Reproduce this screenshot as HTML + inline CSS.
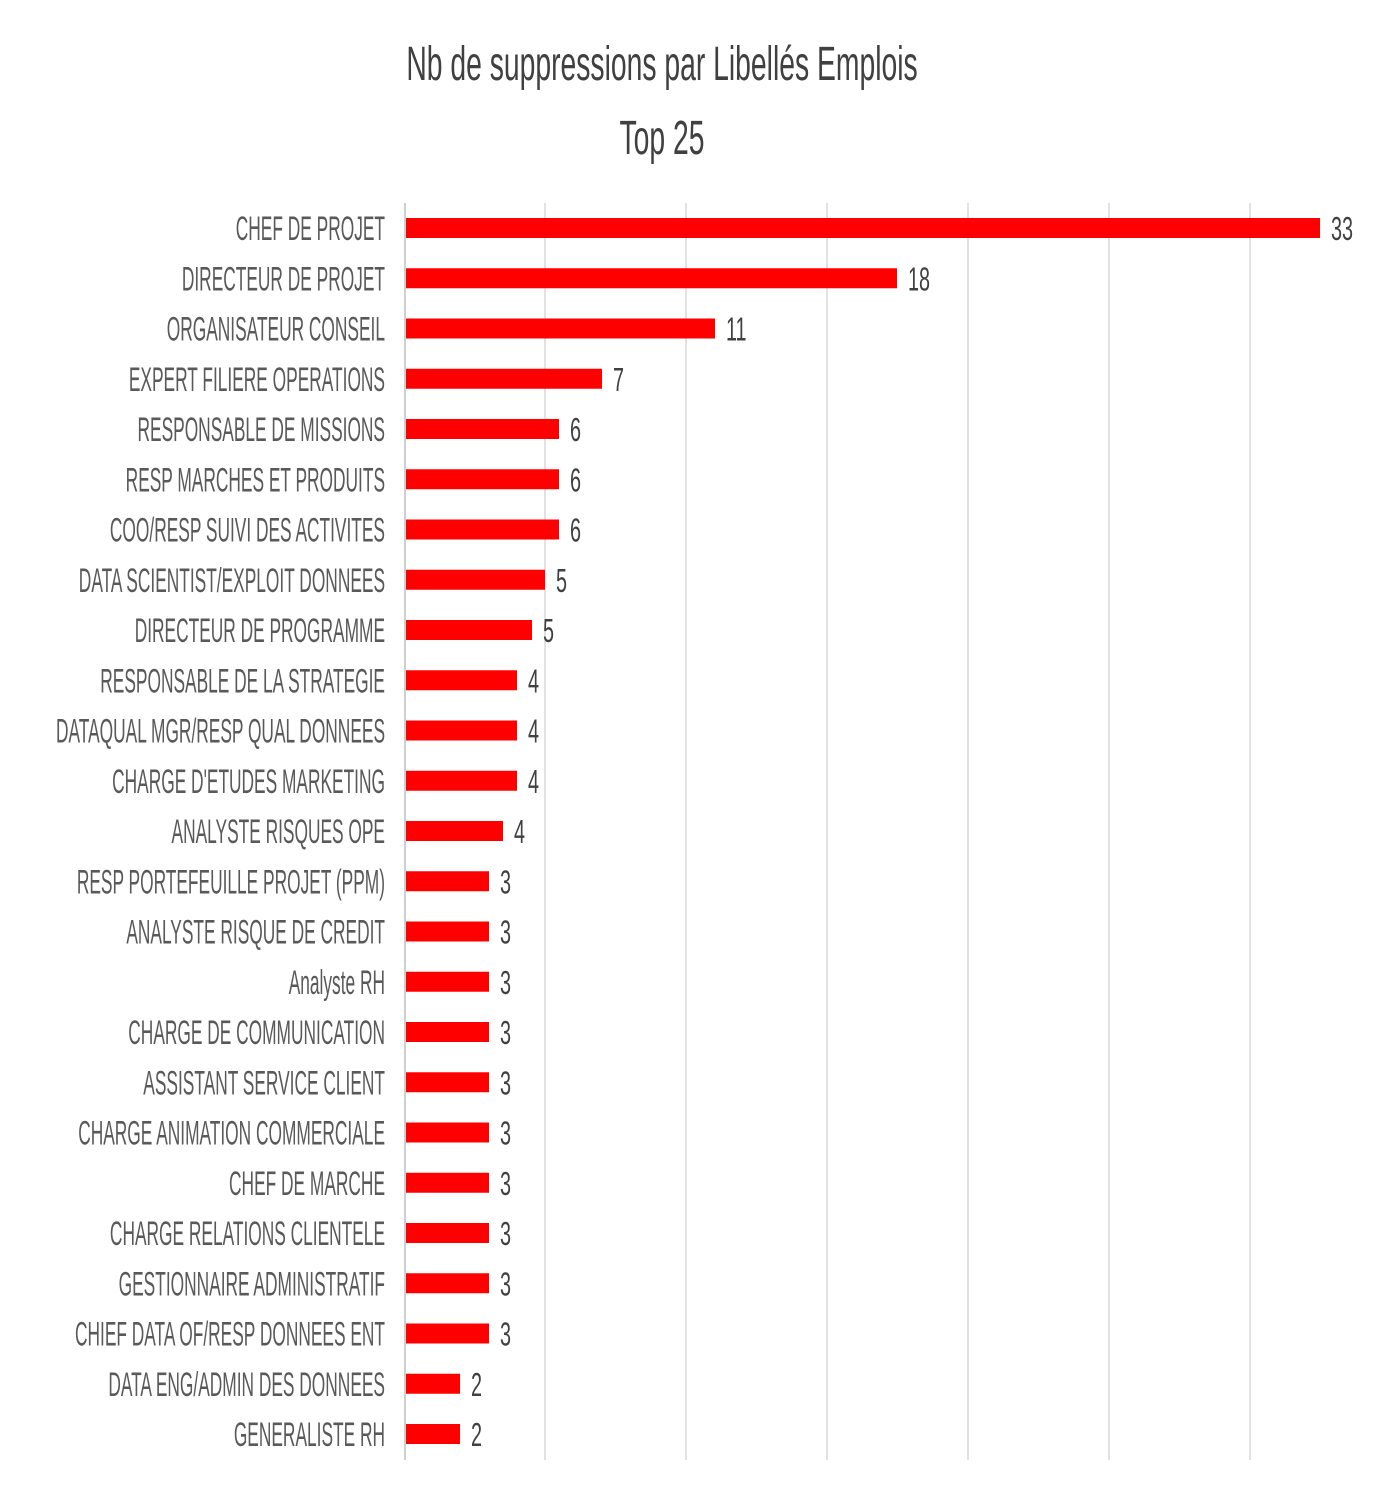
<!DOCTYPE html>
<html><head><meta charset="utf-8"><style>
html,body{margin:0;padding:0;background:#fff;}
svg{display:block;}
text{font-family:"Liberation Sans",sans-serif;}
</style></head><body>
<svg width="1398" height="1506" viewBox="0 0 1398 1506" xmlns="http://www.w3.org/2000/svg">
<rect width="1398" height="1506" fill="#fff"/>
<g fill="#404040" font-size="48" text-anchor="middle">
<text transform="translate(662,80) scale(0.59,1)">Nb de suppressions par Libellés Emplois</text>
<text transform="translate(662,154) scale(0.59,1)">Top 25</text>
</g>
<g stroke="#d9d9d9" stroke-width="1.5">
<line x1="545" y1="203" x2="545" y2="1460"/>
<line x1="686" y1="203" x2="686" y2="1460"/>
<line x1="827" y1="203" x2="827" y2="1460"/>
<line x1="968" y1="203" x2="968" y2="1460"/>
<line x1="1109" y1="203" x2="1109" y2="1460"/>
<line x1="1250" y1="203" x2="1250" y2="1460"/>
</g>
<line x1="405" y1="203" x2="405" y2="1460" stroke="#bfbfbf" stroke-width="1.5"/>
<g id="bars"></g>
</svg>
<script>
var d=[["CHEF DE PROJET",1320,"33"],["DIRECTEUR DE PROJET",897,"18"],["ORGANISATEUR CONSEIL",715,"11"],["EXPERT FILIERE OPERATIONS",602,"7"],["RESPONSABLE DE MISSIONS",559,"6"],["RESP MARCHES ET PRODUITS",559,"6"],["COO/RESP SUIVI DES ACTIVITES",559,"6"],["DATA SCIENTIST/EXPLOIT DONNEES",545,"5"],["DIRECTEUR DE PROGRAMME",532,"5"],["RESPONSABLE DE LA STRATEGIE",517,"4"],["DATAQUAL MGR/RESP QUAL DONNEES",517,"4"],["CHARGE D'ETUDES MARKETING",517,"4"],["ANALYSTE RISQUES OPE",503,"4"],["RESP PORTEFEUILLE PROJET (PPM)",489,"3"],["ANALYSTE RISQUE DE CREDIT",489,"3"],["Analyste RH",489,"3"],["CHARGE DE COMMUNICATION",489,"3"],["ASSISTANT SERVICE CLIENT",489,"3"],["CHARGE ANIMATION COMMERCIALE",489,"3"],["CHEF DE MARCHE",489,"3"],["CHARGE RELATIONS CLIENTELE",489,"3"],["GESTIONNAIRE ADMINISTRATIF",489,"3"],["CHIEF DATA OF/RESP DONNEES ENT",489,"3"],["DATA ENG/ADMIN DES DONNEES",460,"2"],["GENERALISTE RH",460,"2"]];
var g=document.getElementById('bars'),s="";
d.forEach(function(r,i){var c=228+i*50.25;
s+='<rect x="406" y="'+(c-10)+'" width="'+(r[1]-406)+'" height="20" fill="#ff0000"/>';
s+='<text transform="translate(385,'+(c+12)+') scale(0.51,1)" text-anchor="end" font-size="34" fill="#595959">'+r[0]+'</text>';
s+='<text transform="translate('+(r[1]+11)+','+(c+12)+') scale(0.6,1)" font-size="33" fill="#404040">'+r[2]+'</text>';});
g.innerHTML=s;
</script>
</body></html>
